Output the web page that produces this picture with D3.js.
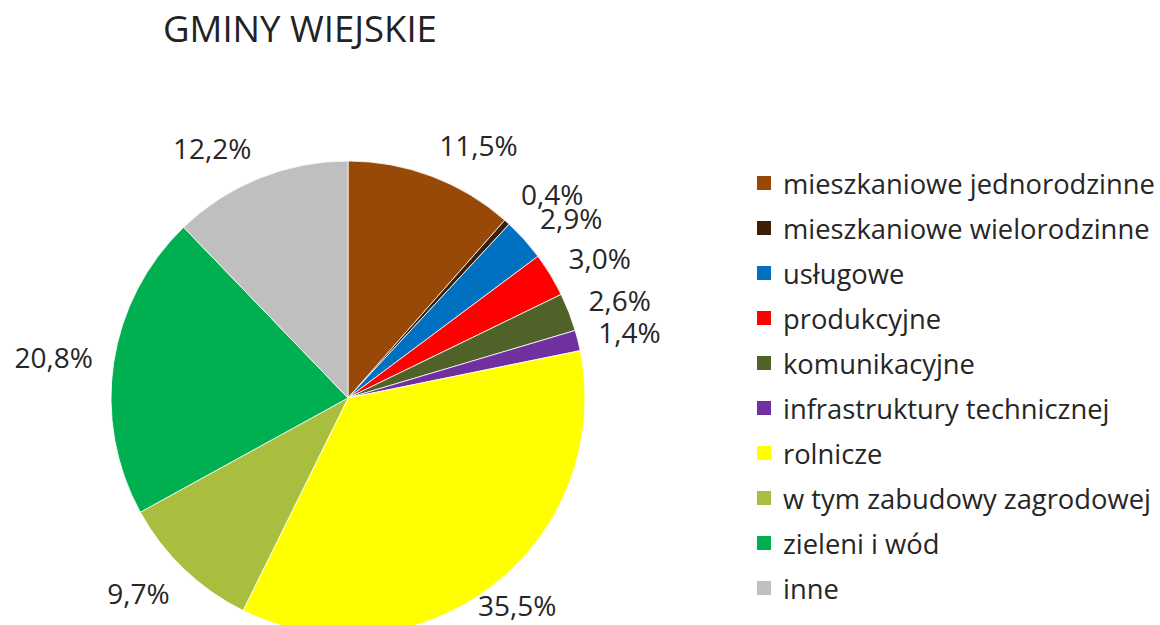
<!DOCTYPE html>
<html>
<head>
<meta charset="utf-8">
<script src="https://cdn.jsdelivr.net/npm/d3@7"></script>
<style>
  html, body { margin: 0; padding: 0; background: #fff; }
  svg { display: block; font-family: "Open Sans", "Noto Sans", sans-serif; }
</style>
</head>
<body>
<svg id="chart" width="1160" height="625"></svg>
<script>
/* ── Data ─────────────────────────────── */
const title = "GMINY WIEJSKIE";
const categories = [
    "mieszkaniowe jednorodzinne",
    "mieszkaniowe wielorodzinne",
    "usługowe",
    "produkcyjne",
    "komunikacyjne",
    "infrastruktury technicznej",
    "rolnicze",
    "w tym zabudowy zagrodowej",
    "zieleni i wód",
    "inne"
];
const shares = [11.5, 0.4, 2.9, 3.0, 2.6, 1.4, 35.5, 9.7, 20.8, 12.2];
const colors = [
    "#984807", "#3d1f08", "#0070c0", "#ff0000", "#4f6228",
    "#7030a0", "#ffff00", "#a9bd3e", "#00b050", "#bfbfbf"
];

/* ── Layout ───────────────────────────── */
const svg = d3.select("#chart");
const cx = 348, cy = 398, radius = 237;
const labelGap = 21;
const bottomLimit = 617;
const minLabelStep = 24;

const fmt = v => d3.format(".1f")(v).replace(".", ",") + "%";

/* title */
const titleText = svg.append("text")
    .attr("x", 163).attr("y", 42)
    .attr("fill", "#222")
    .style("font-size", "31px")
    .text(title);
const tw = titleText.node().getComputedTextLength();
titleText.style("font-size", (31 * 274 / tw).toFixed(2) + "px");

/* pie */
const pie = d3.pie().sort(null).value(d => d);
const arcs = pie(shares);
const arc = d3.arc().innerRadius(0).outerRadius(radius);

const g = svg.append("g").attr("transform", `translate(${cx},${cy})`);
g.selectAll("path")
    .data(arcs).join("path")
    .attr("d", arc)
    .attr("fill", (d, i) => colors[i])
    .attr("stroke", "#fff")
    .attr("stroke-width", 0.8);

/* labels (outside end) */
const labels = svg.append("g")
    .style("font-size", "28px")
    .attr("fill", "#262626");

const placed = arcs.map((d, i) => {
    const a = (d.startAngle + d.endAngle) / 2;
    const s = Math.sin(a), c = Math.cos(a);
    const R = radius + labelGap;
    const px = cx + R * s, py = cy - R * c;
    const t = labels.append("text")
        .attr("dominant-baseline", "central")
        .text(fmt(shares[i]));
    const w = t.node().getBBox().width, h = 24;
    let x = s >= 0 ? px : px - w;
    let y = py - c * h / 2;
    if (y + h / 2 > bottomLimit) {
        const over = y + h / 2 - bottomLimit;
        y -= over;
        x -= over * 4 * Math.sign(s);
    }
    return { t, x, y, s };
});

// push crowded right-side labels upward (small slices)
for (let i = placed.length - 2; i >= 0; i--) {
    const cur = placed[i], next = placed[i + 1];
    if (cur.s > 0 && next.s > 0 && next.y < 400 && cur.y > next.y - minLabelStep) {
        cur.y = next.y - minLabelStep;
    }
}
placed.forEach(p => p.t.attr("x", p.x).attr("y", p.y));

/* legend */
const legend = svg.append("g").attr("transform", "translate(757,183)");
const rows = legend.selectAll("g")
    .data(categories).join("g")
    .attr("transform", (d, i) => `translate(0,${i * 45})`);
rows.append("rect")
    .attr("x", 0).attr("y", -7)
    .attr("width", 14).attr("height", 14)
    .attr("fill", (d, i) => colors[i]);
const legendTexts = rows.append("text")
    .attr("x", 26)
    .attr("dominant-baseline", "central")
    .attr("fill", "#262626")
    .style("font-size", "24px")
    .text(d => d);
const widest = d3.max(legendTexts.nodes(), n => n.getComputedTextLength());
legendTexts.style("font-size", (24 * 372 / widest).toFixed(2) + "px");
</script>
</body>
</html>
